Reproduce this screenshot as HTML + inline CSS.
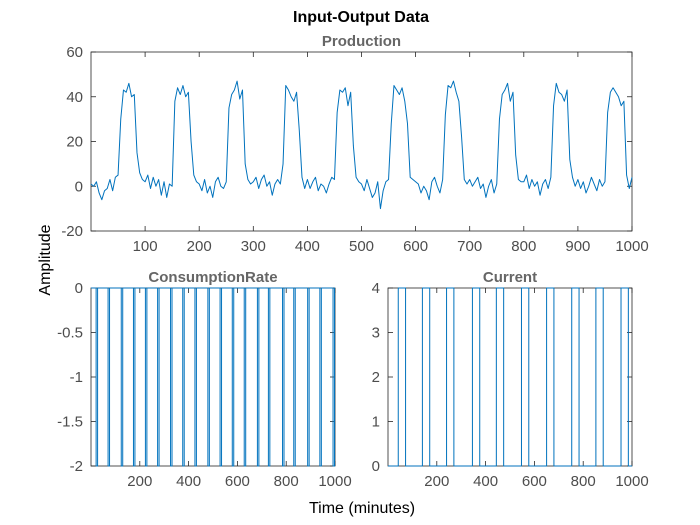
<!DOCTYPE html>
<html><head><meta charset="utf-8"><style>
body{margin:0;background:#fff;}
svg{display:block;font-family:"Liberation Sans",Arial,sans-serif;}
</style></head><body>
<svg id="chart" width="700" height="525">
<rect width="700" height="525" fill="#fff"/>
<text x="361" y="22" text-anchor="middle" font-size="16" font-weight="bold" fill="#000">Input-Output Data</text>
<text x="50" y="260" text-anchor="middle" font-size="16" fill="#000" transform="rotate(-90 50 260)">Amplitude</text>
<text x="362" y="513" text-anchor="middle" font-size="16" fill="#000">Time (minutes)</text>
</svg>
<script>
// Production samples every 5 minutes, t = 0..1000
const prodStep = 5;
const production = [
1,0,2,-3,-6,-2,-1,3,-2,4,5, 30,43,42,46,40,41, 15,6,3,
2,5,-1,4,0,3,-4,2,-5,1,0, 38,44,41,45,40,42, 20,5,2,
1,-2,3,-3,0,-5,2,4,0,-1,2, 35,41,43,47,39,43, 10,3,1,
2,4,-1,3,5,0,2,-4,1,3,1, 10,45,43,40,38,42, 25,4,-1,
3,-1,2,4,-2,1,0,-3,1,4,3, 33,43,42,44,36,42, 18,4,2,
1,-2,3,-1,-5,-3,2,-10,-2,2,3, 28,45,43,41,44,38, 28,4,3,
2,1,-3,0,-2,-6,2,4,0,-3,3, 32,45,44,47,42,38, 22,3,1,
3,0,2,4,-1,1,-5,0,3,-3,1, 30,41,43,46,38,42, 14,3,2,
2,5,-1,3,0,2,-4,1,3,-1,4, 36,46,42,41,38,43, 12,4,0,
3,-1,2,-3,0,4,1,-2,3,0,2, 33,42,44,42,40,36, 38,5,-1,4
];
// ConsumptionRate: short dips to -2 (start minute), width in minutes
const consDipStarts = [21,70,124,174,223,273,326,376,426,479,529,579,628,682,727,785,831,888,938,992];
const consDipWidth = 6;
const consHigh = 0, consLow = -2;
// Current: pulses to 4 (start minute)
const curPulseStarts = [42,141,240,346,444,547,650,753,852,955];
const curPulseWidth = 30;
const curHigh = 4, curLow = 0;
// tick labels
const topXTicks = [100,200,300,400,500,600,700,800,900,1000];
const topYTicks = [-20,0,20,40,60];
const botXTicks = [200,400,600,800,1000];
const consYTicks = [-2,-1.5,-1,-0.5,0];
const curYTicks = [0,1,2,3,4];

const NS = "http://www.w3.org/2000/svg";
const svgEl = document.getElementById('chart');
function mk(tag, attrs, parent){const e=document.createElementNS(NS,tag);for(const k in attrs)e.setAttribute(k,attrs[k]);(parent||svgEl).appendChild(e);return e;}

function axes(name, box, xlim, ylim, xticks, yticks, title){
  const g = mk('g',{});
  
  
  const sx = v => box.x0 + (v - xlim[0]) / (xlim[1]-xlim[0]) * (box.x1-box.x0);
  const sy = v => box.y1 - (v - ylim[0]) / (ylim[1]-ylim[0]) * (box.y1-box.y0);
  const frame = mk('rect',{x:box.x0,y:box.y0,width:box.x1-box.x0,height:box.y1-box.y0,fill:'#fff',stroke:'#262626','stroke-width':0.8},g);
  
  
  xticks.forEach(t=>{
    const x=sx(t);
    mk('line',{x1:x,x2:x,y1:box.y1,y2:box.y1-5,stroke:'#262626','stroke-width':0.8},g);
    mk('line',{x1:x,x2:x,y1:box.y0,y2:box.y0+5,stroke:'#262626','stroke-width':0.8},g);
    const tx = mk('text',{x:x,y:box.y1+20,'text-anchor':'middle','font-size':15,fill:'#4d4d4d'},g);
    tx.textContent=t;
    
    
  });
  yticks.forEach(t=>{
    const y=sy(t);
    mk('line',{x1:box.x0,x2:box.x0+5,y1:y,y2:y,stroke:'#262626','stroke-width':0.8},g);
    mk('line',{x1:box.x1,x2:box.x1-5,y1:y,y2:y,stroke:'#262626','stroke-width':0.8},g);
    const ty = mk('text',{x:box.x0-8,y:y+5,'text-anchor':'end','font-size':15,fill:'#4d4d4d'},g);
    ty.textContent=t;
    
    
  });
  const tt = mk('text',{x:(box.x0+box.x1)/2,y:box.y0-6,'text-anchor':'middle','font-size':15,'font-weight':'bold',fill:'#666'},g);
  tt.textContent=title;
  
  
  return {g,sx,sy,box};
}
function line(ax, pts, name){
  const d = pts.map((p,i)=>(i?'L':'M')+ax.sx(p[0]).toFixed(2)+' '+ax.sy(p[1]).toFixed(2)).join(' ');
  const p = mk('path',{d:d,fill:'none',stroke:'#0072BD','stroke-width':1,'stroke-linejoin':'round'},ax.g);
  
  
}
function pulses(starts, w, hi, lo){
  const pts=[[0,lo]];
  starts.forEach(s=>{pts.push([s,lo],[s,hi],[Math.min(s+w,1000),hi],[Math.min(s+w,1000),lo]);});
  pts.push([1000,lo]);
  return pts;
}

const prodAx = axes('production-axes',{x0:91,x1:632,y0:52,y1:231},[0,1000],[-20,60],topXTicks,topYTicks,'Production');
line(prodAx, production.map((v,i)=>[i*prodStep,v]), 'production-line');

const consAx = axes('consumption-rate-axes',{x0:91,x1:335,y0:288,y1:466},[0,1000],[-2,0],botXTicks,consYTicks,'ConsumptionRate');
line(consAx, pulses(consDipStarts, consDipWidth, consLow, consHigh), 'consumption-rate-line');

const curAx = axes('current-axes',{x0:388,x1:632,y0:288,y1:466},[0,1000],[0,4],botXTicks,curYTicks,'Current');
line(curAx, pulses(curPulseStarts, curPulseWidth, curHigh, curLow), 'current-line');
</script>
</body></html>
